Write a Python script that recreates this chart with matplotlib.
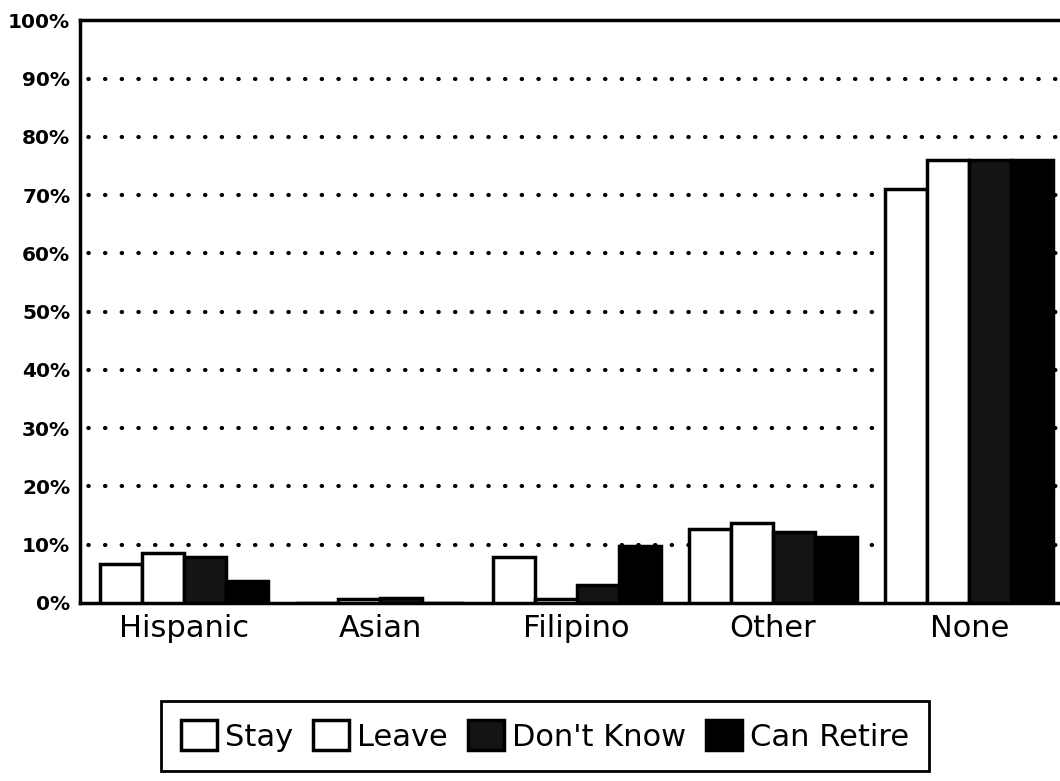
import matplotlib.pyplot as plt
import numpy as np

# Values (percent)
groups = ["Hispanic", "Asian", "Filipino", "Other", "None"]
series_names = ["Stay", "Leave", "Don't Know", "Can Retire"]
stay = [6.6, 0.0, 7.8, 12.7, 71.0]
leave = [8.5, 0.7, 0.7, 13.8, 76.0]
dont_know = [7.8, 0.8, 3.0, 12.2, 76.0]
can_retire = [3.8, 0.0, 9.8, 11.4, 76.0]
y_ticks = [0, 10, 20, 30, 40, 50, 60, 70, 80, 90, 100]

plt.rcParams["font.family"] = ["DejaVu Sans"]

fig = plt.figure(figsize=(10.6, 7.81), dpi=100)
ax = fig.add_axes([0.0755, 0.228, 0.926, 0.746])

x = np.arange(len(groups))
width = 0.214
fills = ["white", "white", "#141414", "black"]
all_series = [stay, leave, dont_know, can_retire]

for i, (name, values) in enumerate(zip(series_names, all_series)):
    ax.bar(
        x + (i - 1.5) * width,
        values,
        width=width,
        color=fills[i],
        edgecolor="black",
        linewidth=2.5,
        label=name,
        zorder=3,
    )

ax.set_xlim(-0.53, 4.47)
ax.set_ylim(0, 100)
ax.set_yticks(y_ticks)
ax.set_yticklabels([f"{t}%" for t in y_ticks], fontsize=14.5, fontweight="bold")
ax.set_xticks(x)
ax.set_xticklabels(groups, fontsize=22)
ax.tick_params(axis="both", length=0)
ax.tick_params(axis="x", pad=8)
ax.tick_params(axis="y", pad=7)

# dotted gridlines at 10..90 only, behind the bars
for t in y_ticks[1:-1]:
    ax.axhline(t, color="black", linewidth=3, linestyle=(6, (0.1, 3.9)),
               dash_capstyle="round", zorder=1)

for side in ["left", "bottom", "top"]:
    ax.spines[side].set_linewidth(2.5)
ax.spines["right"].set_visible(False)

handles, labels = ax.get_legend_handles_labels()
leg = fig.legend(
    handles,
    labels,
    loc="center",
    bbox_to_anchor=(0.514, 0.0576),
    ncol=4,
    fontsize=22,
    frameon=True,
    fancybox=False,
    framealpha=1,
    edgecolor="black",
    handlelength=1.18,
    handleheight=1.1,
    handletextpad=0.26,
    columnspacing=0.65,
    borderpad=0.65,
    borderaxespad=0,
)
leg.get_frame().set_linewidth(2)

fig.savefig("out.png", dpi=100)
